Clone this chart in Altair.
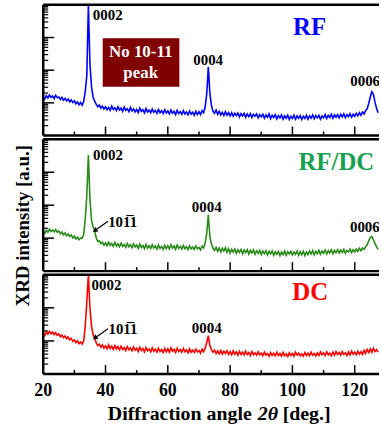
import altair as alt
import numpy as np
import pandas as pd

# Sampled diffraction angles (deg), 0.5 deg steps from 20 to 127.5
two_theta = [20.0 + 0.5 * i for i in range(216)]

# log10 of XRD intensity (arbitrary units)
rf_log = [
    1.19, 1.12, 1.22, 1.15, 1.24, 1.17, 1.21, 1.13, 1.23, 1.16,
    1.18, 1.10, 1.17, 1.08, 1.14, 1.06, 1.12, 1.03, 1.09, 1.01,
    1.06, 0.97, 1.03, 0.94, 1.01, 0.93, 1.05, 1.35, 1.85, 4.50,
    2.20, 1.50, 1.18, 1.05, 0.96, 0.88, 0.93, 0.84, 0.90, 0.81,
    0.88, 0.79, 0.86, 0.77, 0.90, 0.80, 0.85, 0.76, 0.88, 0.78,
    0.84, 0.74, 0.87, 0.77, 0.82, 0.73, 0.86, 0.75, 0.81, 0.72,
    0.80, 0.70, 0.84, 0.74, 0.79, 0.69, 0.83, 0.72, 0.78, 0.70,
    0.81, 0.71, 0.77, 0.68, 0.80, 0.70, 0.76, 0.67, 0.79, 0.69,
    0.75, 0.66, 0.78, 0.68, 0.74, 0.64, 0.77, 0.67, 0.73, 0.65,
    0.76, 0.66, 0.72, 0.63, 0.75, 0.65, 0.71, 0.62, 0.74, 0.64,
    0.73, 0.64, 0.76, 0.70, 0.88, 1.28, 2.10, 1.30, 0.92, 0.74,
    0.68, 0.78, 0.65, 0.74, 0.63, 0.71, 0.61, 0.73, 0.62, 0.70,
    0.60, 0.70, 0.59, 0.68, 0.61, 0.69, 0.57, 0.67, 0.60, 0.68,
    0.56, 0.66, 0.58, 0.67, 0.55, 0.65, 0.59, 0.66, 0.54, 0.64,
    0.57, 0.65, 0.53, 0.63, 0.56, 0.66, 0.52, 0.62, 0.55, 0.64,
    0.51, 0.61, 0.54, 0.63, 0.50, 0.60, 0.53, 0.62, 0.49, 0.59,
    0.52, 0.62, 0.50, 0.60, 0.53, 0.61, 0.49, 0.59, 0.52, 0.62,
    0.50, 0.60, 0.53, 0.63, 0.51, 0.61, 0.54, 0.62, 0.50, 0.60,
    0.54, 0.64, 0.52, 0.62, 0.55, 0.65, 0.53, 0.63, 0.56, 0.64,
    0.54, 0.65, 0.57, 0.66, 0.55, 0.64, 0.58, 0.67, 0.56, 0.65,
    0.59, 0.68, 0.60, 0.70, 0.62, 0.72, 0.66, 0.76, 0.82, 0.98,
    1.18, 1.34, 1.26, 1.02, 0.84, 0.70,
]

rfdc_log = [
    1.20, 1.14, 1.24, 1.18, 1.27, 1.20, 1.25, 1.19, 1.26, 1.18,
    1.22, 1.13, 1.19, 1.10, 1.16, 1.07, 1.13, 1.05, 1.10, 1.01,
    1.06, 0.97, 1.03, 0.95, 1.00, 1.00, 1.12, 1.60, 2.30, 3.52,
    2.20, 1.55, 1.35, 1.22, 1.02, 0.90, 0.92, 0.83, 0.88, 0.79,
    0.86, 0.77, 0.88, 0.78, 0.84, 0.75, 0.87, 0.76, 0.83, 0.74,
    0.85, 0.75, 0.81, 0.72, 0.84, 0.74, 0.80, 0.71, 0.83, 0.73,
    0.79, 0.69, 0.82, 0.72, 0.78, 0.68, 0.81, 0.70, 0.77, 0.69,
    0.80, 0.70, 0.76, 0.67, 0.79, 0.69, 0.75, 0.66, 0.78, 0.68,
    0.77, 0.67, 0.80, 0.70, 0.76, 0.66, 0.79, 0.69, 0.75, 0.67,
    0.78, 0.68, 0.74, 0.65, 0.77, 0.67, 0.73, 0.66, 0.76, 0.68,
    0.72, 0.64, 0.76, 0.70, 0.86, 1.15, 1.71, 1.05, 0.82, 0.70,
    0.63, 0.72, 0.60, 0.70, 0.58, 0.69, 0.61, 0.71, 0.57, 0.68,
    0.55, 0.66, 0.58, 0.67, 0.54, 0.65, 0.57, 0.66, 0.53, 0.64,
    0.56, 0.65, 0.52, 0.63, 0.55, 0.64, 0.51, 0.62, 0.54, 0.63,
    0.50, 0.61, 0.53, 0.62, 0.49, 0.60, 0.52, 0.61, 0.48, 0.59,
    0.51, 0.60, 0.47, 0.58, 0.50, 0.61, 0.48, 0.59, 0.52, 0.60,
    0.49, 0.58, 0.51, 0.61, 0.48, 0.59, 0.50, 0.60, 0.47, 0.58,
    0.50, 0.61, 0.52, 0.62, 0.49, 0.60, 0.53, 0.63, 0.51, 0.61,
    0.54, 0.64, 0.52, 0.62, 0.55, 0.65, 0.53, 0.63, 0.56, 0.65,
    0.55, 0.64, 0.57, 0.66, 0.54, 0.63, 0.58, 0.67, 0.56, 0.65,
    0.58, 0.67, 0.60, 0.69, 0.62, 0.70, 0.66, 0.74, 0.80, 0.92,
    1.02, 1.05, 0.95, 0.84, 0.74, 0.66,
]

dc_log = [
    1.22, 1.16, 1.27, 1.20, 1.29, 1.22, 1.27, 1.19, 1.25, 1.17,
    1.21, 1.13, 1.18, 1.10, 1.15, 1.07, 1.12, 1.03, 1.08, 0.99,
    1.03, 0.95, 1.00, 0.92, 0.97, 0.90, 1.00, 1.45, 2.20, 3.40,
    2.00, 1.45, 1.20, 1.08, 0.95, 0.86, 0.90, 0.81, 0.88, 0.78,
    0.85, 0.76, 0.88, 0.77, 0.84, 0.74, 0.86, 0.76, 0.83, 0.73,
    0.84, 0.74, 0.80, 0.71, 0.83, 0.73, 0.79, 0.70, 0.82, 0.72,
    0.78, 0.68, 0.81, 0.71, 0.77, 0.67, 0.80, 0.70, 0.76, 0.67,
    0.79, 0.69, 0.75, 0.66, 0.78, 0.68, 0.74, 0.65, 0.77, 0.67,
    0.76, 0.66, 0.79, 0.69, 0.75, 0.65, 0.78, 0.68, 0.74, 0.66,
    0.77, 0.67, 0.73, 0.64, 0.76, 0.66, 0.72, 0.65, 0.75, 0.67,
    0.71, 0.63, 0.75, 0.68, 0.78, 0.95, 1.16, 0.86, 0.74, 0.66,
    0.72, 0.62, 0.70, 0.61, 0.71, 0.60, 0.69, 0.62, 0.70, 0.59,
    0.68, 0.58, 0.70, 0.60, 0.67, 0.57, 0.69, 0.59, 0.66, 0.58,
    0.69, 0.59, 0.65, 0.56, 0.68, 0.58, 0.64, 0.57, 0.67, 0.58,
    0.63, 0.55, 0.66, 0.57, 0.62, 0.54, 0.65, 0.56, 0.63, 0.55,
    0.66, 0.56, 0.62, 0.54, 0.65, 0.55, 0.61, 0.53, 0.64, 0.56,
    0.62, 0.54, 0.66, 0.57, 0.63, 0.55, 0.61, 0.54, 0.65, 0.56,
    0.63, 0.55, 0.66, 0.57, 0.62, 0.54, 0.64, 0.56, 0.67, 0.58,
    0.64, 0.56, 0.67, 0.58, 0.63, 0.55, 0.66, 0.57, 0.68, 0.59,
    0.65, 0.57, 0.68, 0.59, 0.64, 0.56, 0.67, 0.58, 0.69, 0.60,
    0.66, 0.58, 0.69, 0.60, 0.67, 0.59, 0.72, 0.62, 0.74, 0.65,
    0.76, 0.66, 0.78, 0.68, 0.74, 0.66,
]

# Axis tick values
x_labels = [20, 40, 60, 80, 100, 120]
x_major = [40, 60, 80, 100, 120]
x_minor = [30, 50, 70, 90, 110]
minor_mult = [2, 3, 4, 5, 6, 7, 8, 9]

# Text annotations: (text, angle, log10 intensity)
rf_peaks = [("0002", 40.7, 3.68), ("0004", 72.95, 2.31), ("0006", 123.35, 1.67)]
rfdc_peaks = [("0002", 40.8, 3.52), ("0004", 72.5, 1.95), ("0006", 123.25, 1.35),
              ("10" + "1\u0305" + "1", 45.5, 1.50)]
dc_peaks = [("0002", 40.3, 2.69), ("0004", 72.5, 1.40),
            ("10" + "1\u0305" + "1", 45.6, 1.37)]
panel_names = [("RF", 105.5, 3.31, "#0000ff"), ("RF/DC", 114.1, 3.30, "#18a050"),
               ("DC", 105.7, 2.48, "#ff0000")]
# arrows: tail angle, tail log10 I, tip angle, tip log10 I
rfdc_arrow = [40.8, 1.51, 36.6, 1.23]
dc_arrow = [40.8, 1.37, 36.6, 1.09]
box_x = [39.1, 63.7]
box_log = [1.49, 2.98]
box_lines = [("No 10-11", 51.3, 2.55), ("peak", 51.3, 1.91)]

FONT = "Liberation Serif"
W = 338
X_DOMAIN = [20, 127.8]


def make_panel(logs, color, n_dec, h, peaks, name, arrow=None, box=False,
               ytitle=False, bottom=False):
    xs = alt.Scale(domain=X_DOMAIN, nice=False, zero=False)
    ys = alt.Scale(type="log", domain=[1, 10 ** n_dec], nice=False, clamp=True)
    df = pd.DataFrame({"angle": two_theta,
                       "intensity": np.power(10.0, np.array(logs))})

    layers = []
    if box:
        bdf = pd.DataFrame({"x": [box_x[0]], "x2": [box_x[1]],
                            "y": [10 ** box_log[0]], "y2": [10 ** box_log[1]]})
        layers.append(alt.Chart(bdf).mark_rect(color="#800000").encode(
            x=alt.X("x:Q", scale=xs, axis=None), x2="x2:Q",
            y=alt.Y("y:Q", scale=ys, axis=None), y2="y2:Q"))
        tdf = pd.DataFrame({"t": [b[0] for b in box_lines],
                            "x": [b[1] for b in box_lines],
                            "y": [10 ** b[2] for b in box_lines]})
        layers.append(alt.Chart(tdf).mark_text(
            font=FONT, fontSize=17, fontWeight="bold", color="white").encode(
            x=alt.X("x:Q", scale=xs, axis=None),
            y=alt.Y("y:Q", scale=ys, axis=None), text="t:N"))

    layers.append(alt.Chart(df).mark_line(color=color, strokeWidth=1.6, clip=True).encode(
        x=alt.X("angle:Q", scale=xs, axis=None),
        y=alt.Y("intensity:Q", scale=ys, axis=None)))

    # frame: left axis, bottom axis, top border
    frame = alt.Chart(pd.DataFrame({"v": [0]}))
    layers.append(frame.mark_rule(color="black", strokeWidth=2.5).encode(
        x=alt.value(0), y=alt.value(0), y2=alt.value(h)))
    layers.append(frame.mark_rule(color="black", strokeWidth=2.5).encode(
        x=alt.value(0), x2=alt.value(W), y=alt.value(h)))
    layers.append(frame.mark_rule(color="black", strokeWidth=2.5).encode(
        x=alt.value(0), x2=alt.value(W), y=alt.value(0)))

    # inward ticks
    y_major = [10 ** k for k in range(1, n_dec)]
    y_minor = [m * 10 ** k for k in range(0, n_dec) for m in minor_mult]
    layers.append(alt.Chart(pd.DataFrame({"v": y_major})).mark_rule(
        color="black", strokeWidth=1.5).encode(
        y=alt.Y("v:Q", scale=ys, axis=None), x=alt.value(0), x2=alt.value(11)))
    layers.append(alt.Chart(pd.DataFrame({"v": y_minor})).mark_rule(
        color="black", strokeWidth=1.2).encode(
        y=alt.Y("v:Q", scale=ys, axis=None), x=alt.value(0), x2=alt.value(5)))
    layers.append(alt.Chart(pd.DataFrame({"v": x_major})).mark_rule(
        color="black", strokeWidth=1.5).encode(
        x=alt.X("v:Q", scale=xs, axis=None), y=alt.value(h), y2=alt.value(h - 9)))
    layers.append(alt.Chart(pd.DataFrame({"v": x_minor})).mark_rule(
        color="black", strokeWidth=1.5).encode(
        x=alt.X("v:Q", scale=xs, axis=None), y=alt.value(h), y2=alt.value(h - 4)))

    pdf = pd.DataFrame({"t": [p[0] for p in peaks], "x": [p[1] for p in peaks],
                        "y": [10 ** p[2] for p in peaks]})
    layers.append(alt.Chart(pdf).mark_text(
        font=FONT, fontSize=15, fontWeight="bold", color="black", clip=True).encode(
        x=alt.X("x:Q", scale=xs, axis=None),
        y=alt.Y("y:Q", scale=ys, axis=None), text="t:N"))

    ndf = pd.DataFrame({"t": [name[0]], "x": [name[1]], "y": [10 ** name[2]]})
    layers.append(alt.Chart(ndf).mark_text(
        font=FONT, fontSize=25, fontWeight="bold", color=name[3]).encode(
        x=alt.X("x:Q", scale=xs, axis=None),
        y=alt.Y("y:Q", scale=ys, axis=None), text="t:N"))

    if arrow is not None:
        adf = pd.DataFrame({"x": [arrow[0]], "y": [10 ** arrow[1]],
                            "x2": [arrow[2]], "y2": [10 ** arrow[3]]})
        layers.append(alt.Chart(adf).mark_rule(color="black", strokeWidth=1.2).encode(
            x=alt.X("x:Q", scale=xs, axis=None), x2="x2:Q",
            y=alt.Y("y:Q", scale=ys, axis=None), y2="y2:Q"))
        layers.append(alt.Chart(adf).mark_point(
            shape="triangle-up", filled=True, size=30, angle=236,
            color="black", opacity=1).encode(
            x=alt.X("x2:Q", scale=xs, axis=None),
            y=alt.Y("y2:Q", scale=ys, axis=None)))

    if ytitle:
        layers.append(alt.Chart(pd.DataFrame({"t": ["XRD intensity [a.u.]"]})).mark_text(
            font=FONT, fontSize=19, fontWeight="bold", color="black", angle=270).encode(
            x=alt.value(-20), y=alt.value(87), text="t:N"))

    if bottom:
        ldf = pd.DataFrame({"v": x_labels, "t": [str(v) for v in x_labels]})
        layers.append(alt.Chart(ldf).mark_text(
            font=FONT, fontSize=18, fontWeight="bold", color="black").encode(
            x=alt.X("v:Q", scale=xs, axis=None), y=alt.value(h + 17), text="t:N"))
        layers.append(alt.Chart(pd.DataFrame({"t": ["Diffraction angle"]})).mark_text(
            font=FONT, fontSize=20, fontWeight="bold", color="black", align="left").encode(
            x=alt.value(65), y=alt.value(h + 40), text="t:N"))
        layers.append(alt.Chart(pd.DataFrame({"t": ["2\u03b8"]})).mark_text(
            font=FONT, fontSize=20, fontWeight="bold", fontStyle="italic",
            color="black", align="left").encode(
            x=alt.value(216), y=alt.value(h + 40), text="t:N"))
        layers.append(alt.Chart(pd.DataFrame({"t": ["[deg.]"]})).mark_text(
            font=FONT, fontSize=20, fontWeight="bold", color="black", align="left").encode(
            x=alt.value(241), y=alt.value(h + 40), text="t:N"))

    return alt.layer(*layers).properties(width=W, height=h)


top = make_panel(rf_log, "#0000ff", 4, 131.5, rf_peaks, panel_names[0], box=True)
mid = make_panel(rfdc_log, "#2a8a1a", 4, 132.7, rfdc_peaks, panel_names[1],
                 arrow=rfdc_arrow, ytitle=True)
bot = make_panel(dc_log, "#ff0000", 3, 100, dc_peaks, panel_names[2],
                 arrow=dc_arrow, bottom=True)

chart = alt.vconcat(top, mid, bot, spacing=3.3, bounds="flush").properties(
    padding={"left": 13.5, "top": 1.5, "right": 0, "bottom": 0}
).configure_view(stroke=None)

chart.save("out.html", embed_options={"renderer": "svg", "actions": False})
